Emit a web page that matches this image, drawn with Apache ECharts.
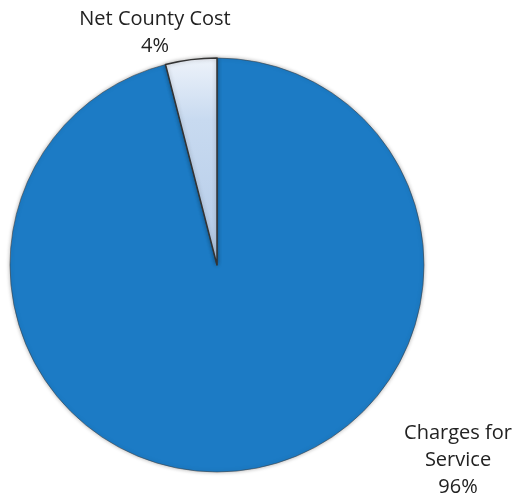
<!DOCTYPE html>
<html>
<head>
<meta charset="utf-8">
<script src="https://cdn.jsdelivr.net/npm/echarts@6/dist/echarts.min.js"></script>
<style>
	html, body { margin: 0; padding: 0; background: #fff; }
	#chart { width: 518px; height: 500px; }
</style>
</head>
<body>
<div id="chart"></div>
<script>
var names = ['Charges for\nService', 'Net County Cost'];
var values = [96, 4];
var colors = ['#1c7bc5', '#c3d6ee'];

// label anchor points (px)
var labelPos = [
	{x: 458, y: 460},
	{x: 155, y: 33}
];

var chart = echarts.init(document.getElementById('chart'));

var pieData = names.map(function (n, i) {
	return {
		value: values[i],
		name: n,
		itemStyle: {
			color: i === 1 ? {
				type: 'linear', x: 0, y: 0, x2: 0, y2: 1,
				colorStops: [
					{offset: 0, color: '#eef3fa'},
					{offset: 0.3, color: '#c8daf0'},
					{offset: 1, color: '#b4cbe8'}
				]
			} : colors[i],
			borderColor: i === 1 ? '#333' : 'rgba(60,60,60,0.55)',
			borderWidth: i === 1 ? 1.5 : 1
		}
	};
});

chart.setOption({
	animation: false,
	series: [
		{
			type: 'pie',
			center: [217, 265],
			radius: 207,
			startAngle: 90,
			clockwise: true,
			itemStyle: {
				shadowBlur: 4,
				shadowColor: 'rgba(0,0,0,0.3)'
			},
			label: {
				show: true,
				position: 'outside',
				formatter: function (p) { return p.name + '\n' + p.value + '%'; },
				color: '#222',
				fontFamily: 'Open Sans',
				fontSize: 20,
				lineHeight: 27,
				align: 'center',
				overflow: 'none',
				width: 200
			},
			labelLine: { show: false },
			labelLayout: function (p) {
				var pos = labelPos[p.dataIndex];
				return { x: pos.x, y: pos.y, align: 'center', verticalAlign: 'middle' };
			},
			data: pieData
		}
	]
});
</script>
</body>
</html>
